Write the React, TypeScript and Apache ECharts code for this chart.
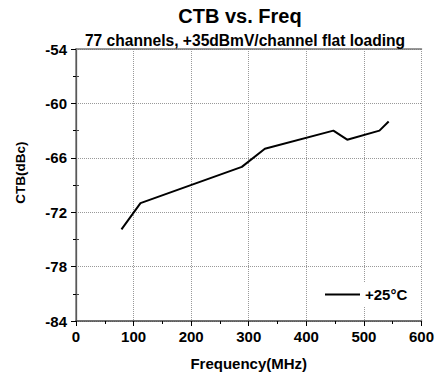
import React, { useEffect, useRef } from "react";
import * as echarts from "echarts";

const freqs = [79, 112, 288, 328, 447, 471, 527, 543];
const ctb = [-73.9, -71, -67, -65, -63, -64, -63, -62];
const seriesName = "+25°C";
const xTicks = [0, 600, 100];
const yTicks = [-84, -54, 6];

export default function App() {
  const ref = useRef<HTMLDivElement>(null);
  useEffect(() => {
    if (!ref.current) return;
    const chart = echarts.init(ref.current, null, { renderer: "svg" });
    const font = "Liberation Sans";
    const lbl = { color: "#000", fontWeight: 700, fontSize: 15, fontFamily: font };
    const tickLbl = (margin: number) => ({
      margin,
      formatter: "{b|{value}}",
      rich: { b: { color: "#000", fontWeight: "bold", fontSize: 15, fontFamily: font } },
    });
    chart.setOption({
      animation: false,
      backgroundColor: "#fff",
      textStyle: { fontFamily: font, fontWeight: 700 },
      title: [
        { text: "CTB vs. Freq", left: 240, top: 6, textAlign: "center", padding: 0,
          textStyle: { fontSize: 20, fontWeight: "bold", fontFamily: font, color: "#000" } },
        { text: "77 channels, +35dBmV/channel flat loading", left: 245, top: 32.5, textAlign: "center", padding: 0,
          textStyle: { fontSize: 15.6, fontWeight: "bold", fontFamily: font, color: "#000" } },
      ],
      graphic: [
        { type: "text", x: 20, y: 172.5, rotation: Math.PI / 2,
          style: { text: "CTB(dBc)", fill: "#000", fontSize: 13.5, fontWeight: "bold", fontFamily: font,
            textAlign: "center", textVerticalAlign: "middle" } },
      ],
      grid: { left: 76, right: 12, top: 49, bottom: 57 },
      legend: {
        data: [{ name: seriesName, icon: "rect" }], left: 321, top: 283, itemWidth: 35, itemHeight: 2, itemGap: 5,
        backgroundColor: "#fff", padding: [4, 6, 4, 4],
        itemStyle: { color: "#000" },
        textStyle: { ...lbl, fontSize: 15 },
      },
      xAxis: [
        {
          type: "value", min: xTicks[0], max: xTicks[1], interval: xTicks[2], position: "bottom",
          name: "Frequency(MHz)", nameLocation: "middle", nameGap: 35,
          nameTextStyle: { ...lbl, fontSize: 15, verticalAlign: "top" },
          axisLine: { lineStyle: { color: "#444", width: 1.5 } },
          axisTick: { show: true, length: 5, lineStyle: { color: "#000" } },
          minorTick: { show: true, splitNumber: 2, length: 3, lineStyle: { color: "#000" } },
          axisLabel: tickLbl(8),
          splitLine: { show: true, lineStyle: { color: "#999", type: "dotted", width: 1 } },
        },
        {
          type: "value", min: xTicks[0], max: xTicks[1], interval: xTicks[2], position: "top",
          axisLine: { show: true, lineStyle: { color: "#777", width: 1.5 } },
          axisTick: { show: false }, axisLabel: { show: false }, splitLine: { show: false },
        },
      ],
      yAxis: [
        {
          type: "value", min: yTicks[0], max: yTicks[1], interval: yTicks[2], position: "left",
          axisLine: { show: true, lineStyle: { color: "#000", width: 1.2 } },
          axisTick: { show: true, length: 5, lineStyle: { color: "#000" } },
          minorTick: { show: true, splitNumber: 2, length: 3, lineStyle: { color: "#000" } },
          axisLabel: tickLbl(9),
          splitLine: { show: true, lineStyle: { color: "#999", type: "dotted", width: 1 } },
        },
        {
          type: "value", min: yTicks[0], max: yTicks[1], interval: yTicks[2], position: "right",
          axisLine: { show: true, lineStyle: { color: "#777", width: 1.5 } },
          axisTick: { show: false },
          minorTick: { show: true, splitNumber: 2, length: 3, lineStyle: { color: "#444" } },
          axisLabel: { show: false }, splitLine: { show: false },
        },
      ],
      series: [
        {
          name: seriesName, type: "line", symbol: "none",
          data: freqs.map((f, i) => [f, ctb[i]]),
          lineStyle: { color: "#000", width: 2 }, itemStyle: { color: "#000" },
        },
      ],
    });
    return () => chart.dispose();
  }, []);
  return <div ref={ref} style={{ width: 437, height: 378, position: "absolute", left: 0, top: 0 }} />;
}
